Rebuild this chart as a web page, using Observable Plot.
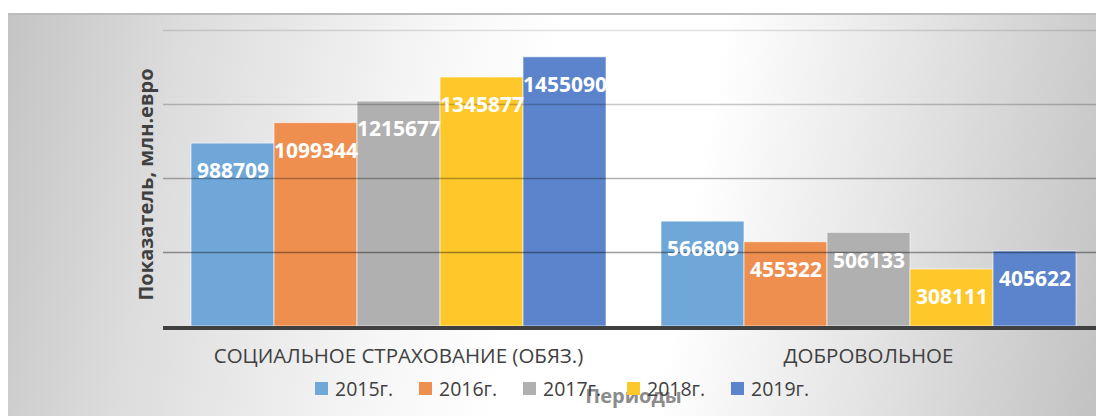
<!DOCTYPE html>
<html>
<head>
<meta charset="utf-8">
<script src="https://cdn.jsdelivr.net/npm/d3@7"></script>
<script src="https://cdn.jsdelivr.net/npm/@observablehq/plot@0.6"></script>
<style>
  html, body { margin: 0; padding: 0; background: #ffffff; }
  #wrap { position: relative; width: 1096px; height: 416px; overflow: hidden; font-family: "Open Sans", sans-serif; }
  #bg { position: absolute; left: 8px; top: 13px; right: 0; bottom: 0; border-top: 2px solid #bcbcbc;
        background: linear-gradient(100deg, #c4c4c4 0%, #dcdcdc 15%, #f6f6f6 37%, #ffffff 48%, #ffffff 62%, #e6e6e6 78%, #c2c2c2 100%); }
  #chart { position: absolute; left: 0; top: 0; }
  #legend { position: absolute; top: 375px; left: 315px; display: flex; color: #404040; font-size: 19.5px; }
  #legend .item { width: 104px; display: flex; align-items: center; white-space: nowrap; }
  #legend .sw { width: 13px; height: 13px; margin-right: 7px; flex: none; }
  g[aria-label="y-axis label"] text { font-size: 20px; font-weight: bold; fill: #404040; translate: 0 6px; }
  g[aria-label="fx-axis tick label"] text { font-size: 20.5px; fill: #404040; translate: 0 1px; }
  g[aria-label="fx-axis label"] text { font-size: 20px; font-weight: bold; fill: #8c8c8c; translate: 0 -2px; }
</style>
</head>
<body>
<div id="wrap">
  <div id="bg"></div>
  <div id="chart"></div>
  <div id="legend"></div>
</div>
<script>
const categories = ["СОЦИАЛЬНОЕ СТРАХОВАНИЕ (ОБЯЗ.)", "ДОБРОВОЛЬНОЕ"];
const years = ["2015г.", "2016г.", "2017г.", "2018г.", "2019г."];
const socialValues = [988709, 1099344, 1215677, 1345877, 1455090];
const voluntaryValues = [566809, 455322, 506133, 308111, 405622];
const gridTicks = [400000, 800000, 1200000, 1600000];
const colors = ["#6fa7d8", "#ef8f4f", "#b0b0b0", "#fec82a", "#5b84cc"];

const seriesByCategory = [socialValues, voluntaryValues];
const rows = categories.flatMap((c, i) =>
  years.map((y, j) => ({category: c, year: y, value: seriesByCategory[i][j]}))
);

const plot = Plot.plot({
  width: 1096,
  height: 416,
  marginLeft: 163,
  marginRight: -7,
  marginTop: 30,
  marginBottom: 90,
  style: {background: "transparent", fontFamily: "Open Sans, sans-serif", overflow: "visible"},
  fx: {domain: categories, padding: 0, axis: "bottom", tickSize: 0, tickPadding: 21,
       label: "Периоды", labelAnchor: "center", labelOffset: 78},
  x: {domain: years, axis: null, paddingInner: 0, paddingOuter: 0.331},
  y: {domain: [0, 1600000], axis: "left", ticks: [], tickSize: 0,
      label: "Показатель, млн.евро", labelAnchor: "center", labelOffset: 25, labelArrow: "none"},
  color: {domain: years, range: colors},
  marks: [
    Plot.barY(rows, {fx: "category", x: "year", y: "value", fill: "year",
                     stroke: "#ffffff", strokeOpacity: 0.6, strokeWidth: 1}),
    Plot.ruleY(gridTicks, {stroke: "#000000", strokeWidth: 1.5,
                           strokeOpacity: d => 0.48 - 0.09 * (d / 400000)}),
    Plot.ruleY([0], {stroke: "#404040", strokeWidth: 4, dy: 1.5}),
    Plot.text(rows, {fx: "category", x: "year", y: "value", text: d => String(d.value),
                     dy: 28, fill: "#ffffff", fontWeight: "bold", fontSize: 21, lineAnchor: "middle"})
  ]
});
document.getElementById("chart").appendChild(plot);

const colorScale = plot.scale("color");
const legend = d3.select("#legend");
const items = legend.selectAll(".item").data(colorScale.domain).join("div").attr("class", "item");
items.append("div").attr("class", "sw").style("background", (d, i) => colorScale.range[i]);
items.append("span").text(d => d);
</script>
</body>
</html>
